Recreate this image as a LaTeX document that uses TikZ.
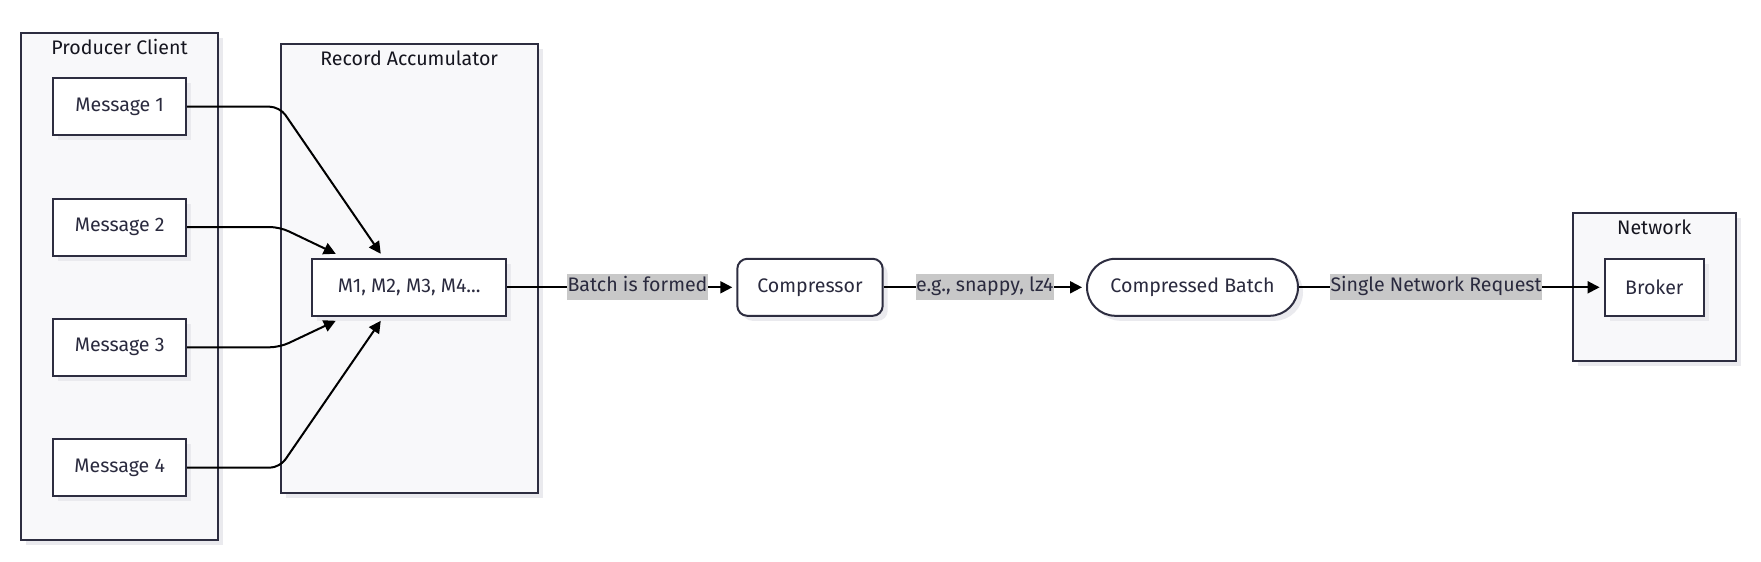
\documentclass[tikz,border=0pt]{standalone}
\usepackage{fontspec}
\setmainfont{Fira Sans}
\usetikzlibrary{arrows.meta,shadows,calc}
\definecolor{bordc}{HTML}{2D2D40}
\definecolor{txtc}{HTML}{2A2A3E}
\definecolor{titc}{HTML}{15151F}
\definecolor{clfill}{HTML}{F8F8FA}
\definecolor{shadc}{HTML}{EAEAEE}
\definecolor{lblbg}{HTML}{C8C8C8}
\tikzset{
  shad/.style={drop shadow={shadow xshift=5pt,shadow yshift=-5pt,fill=shadc,opacity=1}},
  cluster/.style={draw=bordc,line width=2pt,fill=clfill,shad,inner sep=0pt},
  ctitle/.style={text=titc,inner sep=0pt},
  box/.style={draw=bordc,line width=2pt,fill=white,text=txtc,shad,inner sep=0pt,minimum height=57pt},
  conn/.style={draw=black,line width=2pt,-{Triangle[length=12pt,width=12pt]}},
  lbl/.style={fill=lblbg,text=txtc,inner xsep=0.5pt,inner ysep=0pt,text height=14pt,text depth=5pt,minimum height=26pt}
}
\begin{document}
\begin{tikzpicture}[x=1pt,y=-1pt,font=\fontsize{19.6pt}{23pt}\selectfont]
\useasboundingbox (0,0) rectangle (1761,562);
% clusters
\node[cluster,minimum width=197pt,minimum height=506.7pt] (pc) at (119.5,286.65) {};
\node[ctitle] (pct) at ($(pc.north)+(0,14.5)$) {Producer Client};
\node[cluster,minimum width=257pt,minimum height=448.4pt] (ra) at (409.2,268.5) {};
\node[ctitle] (rat) at ($(ra.north)+(0,14.5)$) {Record Accumulator};
\node[cluster,minimum width=162.5pt,minimum height=147.4pt] (nw) at (1654.25,287) {};
\node[ctitle] (nwt) at ($(nw.north)+(0,14.5)$) {Network};
% nodes
\node[box,minimum width=132.7pt] (m1) at (119.7,106.7) {Message 1};
\node[box,minimum width=132.7pt] (m2) at (119.7,227) {Message 2};
\node[box,minimum width=132.7pt] (m3) at (119.7,347.3) {Message 3};
\node[box,minimum width=132.7pt] (m4) at (119.7,467.7) {Message 4};
\node[box,minimum width=193.7pt] (mb) at (409.2,287.3) {M1, M2, M3, M4...};
\node[box,minimum width=145.4pt,rounded corners=10pt] (comp) at (810,287.3) {Compressor};
\node[box,minimum width=211pt,rounded corners=28.5pt] (cb) at (1192.5,287.3) {Compressed Batch};
\node[box,minimum width=99.4pt] (br) at (1654.3,287.3) {Broker};
% connector end points
\coordinate (t1) at ($(mb.north west)+(69.4,-4)$);
\coordinate (t2) at ($(mb.north west)+(24.4,-4)$);
\coordinate (t3) at ($(mb.south west)+(24.4,4)$);
\coordinate (t4) at ($(mb.south west)+(69.4,4)$);
% connectors
\draw[conn,rounded corners=10pt] (m1.east) -- (m1.east -| ra.west) -- (t1);
\draw[conn,rounded corners=10pt] (m2.east) -- (m2.east -| ra.west) -- (t2);
\draw[conn,rounded corners=10pt] (m3.east) -- (m3.east -| ra.west) -- (t3);
\draw[conn,rounded corners=10pt] (m4.east) -- (m4.east -| ra.west) -- (t4);
\draw[conn,shorten >=4pt] (mb.east) -- node[lbl,pos=0.569] (l1) {Batch is formed} (comp.west);
\draw[conn,shorten >=4pt] (comp.east) -- node[lbl,pos=0.5] (l2) {e.g., snappy, lz4} (cb.west);
\draw[conn,shorten >=4pt] (cb.east) -- node[lbl,pos=0.45] (l3) {Single Network Request} (br.west);
\end{tikzpicture}
\end{document}
